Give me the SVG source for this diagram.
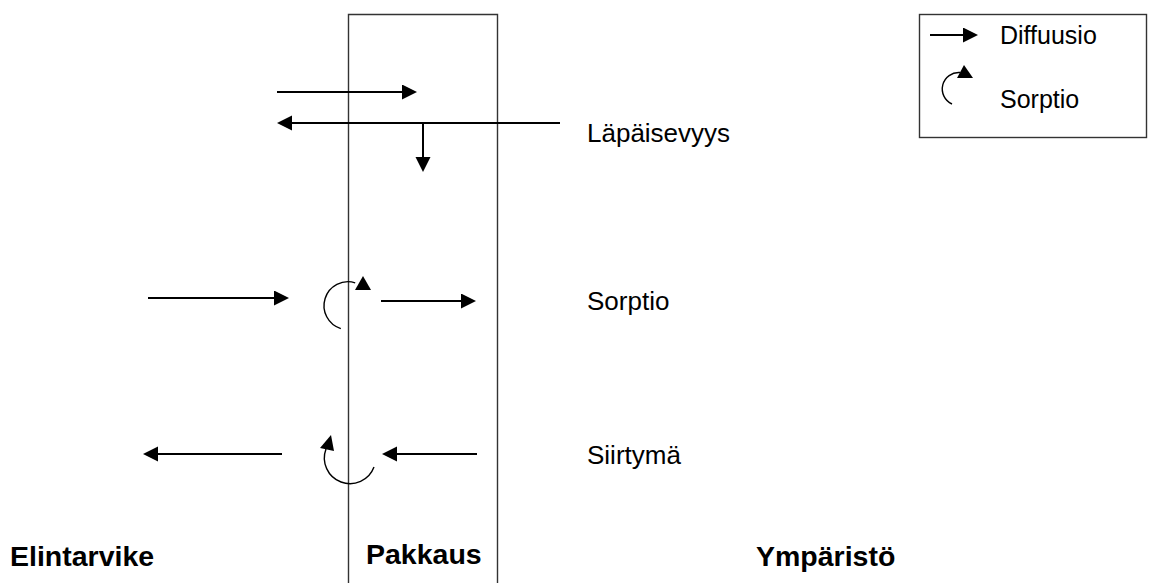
<svg xmlns="http://www.w3.org/2000/svg" width="1152" height="583" viewBox="0 0 1152 583">
<style>
.frame{fill:none;stroke:#333;stroke-width:1.4}
.ln{fill:none;stroke:#000;stroke-width:2}
.arc{fill:none;stroke:#000;stroke-width:1.4}
.head{fill:#000;stroke:none}
.lbl{font-family:"Liberation Sans",Arial,sans-serif;font-size:26px;fill:#000}
.leg{font-family:"Liberation Sans",Arial,sans-serif;font-size:25px;fill:#000}
.bold{font-family:"Liberation Sans",Arial,sans-serif;font-size:28.5px;font-weight:bold;fill:#000}
</style>
<defs>
<marker id="ah" markerUnits="userSpaceOnUse" markerWidth="16" markerHeight="16" refX="13" refY="7.5" orient="auto">
<path d="M0,0 L15,7.5 L0,15 z" fill="#000"/>
</marker>
</defs>
<rect width="1152" height="583" fill="#fff"/>
<g id="pakkaus-layer">
<path class="frame" d="M348.5,590 V14.5 H497.5 V590"/>
</g>
<g id="legend">
<rect class="frame" x="919.5" y="14.5" width="227" height="123"/>
<line class="ln" x1="930" y1="35" x2="976" y2="35" marker-end="url(#ah)"/>
<path class="arc" d="M952,104 A16.5,16.5 0 0 1 960,72.5"/>
<polygon class="head" points="957,78 973,78 964,65"/>
<text class="leg" x="1000" y="44">Diffuusio</text>
<text class="leg" x="1000" y="108">Sorptio</text>
</g>
<g id="connectors">
<line class="ln" x1="277" y1="92" x2="415" y2="92" marker-end="url(#ah)"/>
<line class="ln" x1="560" y1="123" x2="279" y2="123" marker-end="url(#ah)"/>
<line class="ln" x1="423" y1="123" x2="423" y2="170" marker-end="url(#ah)"/>
<line class="ln" x1="148" y1="298" x2="287" y2="298" marker-end="url(#ah)"/>
<line class="ln" x1="381" y1="301" x2="474" y2="301" marker-end="url(#ah)"/>
<line class="ln" x1="282" y1="454" x2="145" y2="454" marker-end="url(#ah)"/>
<line class="ln" x1="477" y1="454" x2="384" y2="454" marker-end="url(#ah)"/>
<path class="arc" d="M340.8,328.6 A24,24 0 0 1 355.2,282.8"/>
<polygon class="head" points="355,290 371,290 363,276"/>
<path class="arc" d="M374,467 A25,25 0 0 1 326,449"/>
<polygon class="head" points="320,448 334,451 331,435"/>
</g>
<g id="label-lapaisevyys"><text class="lbl" x="587" y="142">Läpäisevyys</text></g>
<g id="label-sorptio"><text class="lbl" x="587" y="310">Sorptio</text></g>
<g id="label-siirtyma"><text class="lbl" x="587" y="464">Siirtymä</text></g>
<g id="label-elintarvike"><text class="bold" x="10" y="566">Elintarvike</text></g>
<g id="label-pakkaus"><text class="bold" x="366" y="564">Pakkaus</text></g>
<g id="label-ymparisto"><text class="bold" x="756" y="566">Ympäristö</text></g>
</svg>
